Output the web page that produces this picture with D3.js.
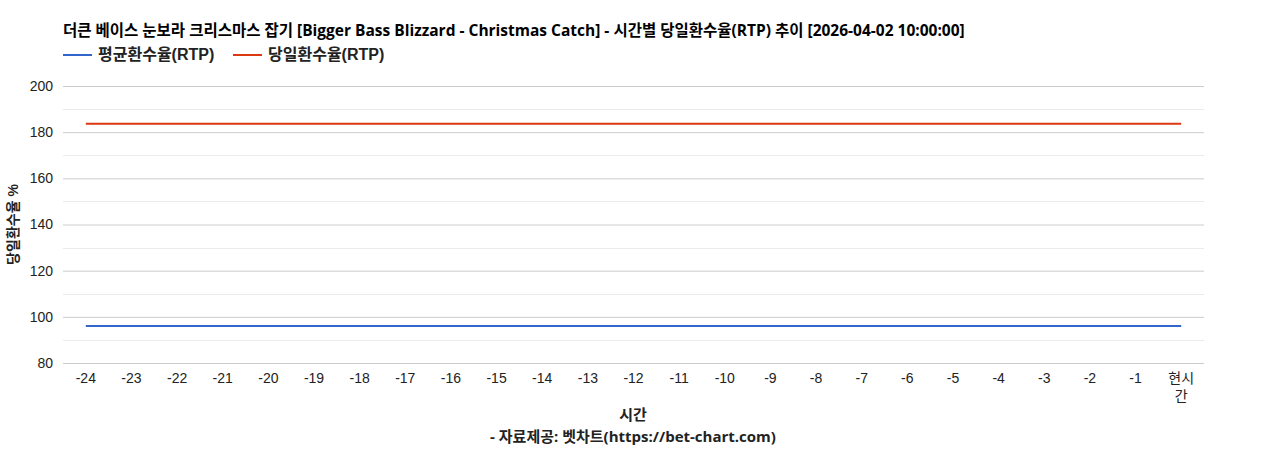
<!DOCTYPE html>
<html>
<head>
<meta charset="utf-8">
<script src="https://cdn.jsdelivr.net/npm/d3@7"></script>
<style>
  body { margin: 0; background: #fff; }
  svg { display: block; font-family: "Liberation Sans", Arial, "Noto Sans CJK KR", sans-serif; }
  .wide { font-family: "Open Sans", "Noto Sans CJK KR", sans-serif; }
</style>
</head>
<body>
<svg id="chart" width="1268" height="450"></svg>
<script>
// 데이터
const categories = ["-24","-23","-22","-21","-20","-19","-18","-17","-16","-15","-14","-13","-12","-11","-10","-9","-8","-7","-6","-5","-4","-3","-2","-1","현시간"];
const avgRtp = [96.0,96.0,96.0,96.0,96.0,96.0,96.0,96.0,96.0,96.0,96.0,96.0,96.0,96.0,96.0,96.0,96.0,96.0,96.0,96.0,96.0,96.0,96.0,96.0,96.0];
const dayRtp = [183.7,183.7,183.7,183.7,183.7,183.7,183.7,183.7,183.7,183.7,183.7,183.7,183.7,183.7,183.7,183.7,183.7,183.7,183.7,183.7,183.7,183.7,183.7,183.7,183.7];
const yTicks = [80, 100, 120, 140, 160, 180, 200];
const yMinor = [90, 110, 130, 150, 170, 190];
const seriesNames = ["평균환수율(RTP)", "당일환수율(RTP)"];
const seriesColors = ["#3366cc", "#dc3912"];

const title = "더큰 베이스 눈보라 크리스마스 잡기 [Bigger Bass Blizzard - Christmas Catch] - 시간별 당일환수율(RTP) 추이 [2026-04-02 10:00:00]";

const svg = d3.select("#chart");
const margin = { top: 86, left: 63, right: 64, bottom: 87 };
const width = 1268, height = 450;
const boundsWidth = width - margin.left - margin.right;
const boundsHeight = height - margin.top - margin.bottom;

const scaleX = d3.scaleBand().domain(categories).range([margin.left, margin.left + boundsWidth]);
const scaleY = d3.scaleLinear().domain([80, 200]).range([margin.top + boundsHeight, margin.top]);

// 보조 격자
svg.append("g").selectAll("line").data(yMinor).join("line")
  .attr("x1", margin.left).attr("x2", margin.left + boundsWidth)
  .attr("y1", d => Math.round(scaleY(d)) + 0.5).attr("y2", d => Math.round(scaleY(d)) + 0.5)
  .attr("stroke", "#ebebeb");

// 주 격자 + y 축
const yAxis = d3.axisLeft(scaleY).tickValues(yTicks).tickSize(-boundsWidth).tickPadding(10);
const gy = svg.append("g").attr("transform", `translate(${margin.left},0)`).call(yAxis);
gy.select(".domain").remove();
gy.selectAll(".tick line").attr("stroke", "#cccccc");
gy.selectAll(".tick text").attr("font-size", 14).attr("fill", "#222").attr("font-family", "Liberation Sans, Arial");

// x 축 라벨
const xLabels = svg.append("g").selectAll("text").data(categories).join("text")
  .attr("x", d => scaleX(d) + scaleX.bandwidth() / 2)
  .attr("y", margin.top + boundsHeight + 20)
  .attr("text-anchor", "middle")
  .attr("font-size", 14)
  .attr("fill", "#222");
xLabels.each(function(d) {
  const t = d3.select(this);
  if (d === "현시간") {
    t.append("tspan").attr("x", scaleX(d) + scaleX.bandwidth() / 2).text("현시");
    t.append("tspan").attr("x", scaleX(d) + scaleX.bandwidth() / 2).attr("dy", 18).text("간");
  } else {
    t.text(d);
  }
});

// 선
const line = d3.line()
  .x((d, i) => scaleX(categories[i]) + scaleX.bandwidth() / 2)
  .y(d => scaleY(d));
[avgRtp, dayRtp].forEach((s, i) => {
  svg.append("path").datum(s)
    .attr("d", line)
    .attr("fill", "none")
    .attr("stroke", seriesColors[i])
    .attr("stroke-width", 2);
});

// 제목
svg.append("text").attr("class", "wide").attr("x", 63).attr("y", 36)
  .attr("font-size", 15.5).attr("font-weight", "bold").attr("fill", "#000")
  .text(title);

// 범례
const legendX = [63, 233];
seriesNames.forEach((n, i) => {
  svg.append("line").attr("x1", legendX[i]).attr("x2", legendX[i] + 29)
    .attr("y1", 55).attr("y2", 55)
    .attr("stroke", seriesColors[i]).attr("stroke-width", 2);
  svg.append("text").attr("x", legendX[i] + 35).attr("y", 60)
    .attr("font-size", 16).attr("font-weight", "bold").attr("fill", "#222")
    .text(n);
});

// y 축 제목
svg.append("text")
  .attr("transform", `translate(18,${margin.top + boundsHeight / 2}) rotate(-90)`)
  .attr("text-anchor", "middle")
  .attr("font-size", 14).attr("font-weight", "bold").attr("fill", "#222")
  .text("당일환수율 %");

// x 축 제목
svg.append("text").attr("class", "wide").attr("x", 633).attr("y", 420)
  .attr("text-anchor", "middle")
  .attr("font-size", 15).attr("font-weight", "bold").attr("fill", "#222")
  .text("시간");
svg.append("text").attr("class", "wide").attr("x", 633).attr("y", 442)
  .attr("text-anchor", "middle")
  .attr("font-size", 15).attr("font-weight", "bold").attr("fill", "#222")
  .text("- 자료제공: 벳차트(https://bet-chart.com)");
</script>
</body>
</html>
